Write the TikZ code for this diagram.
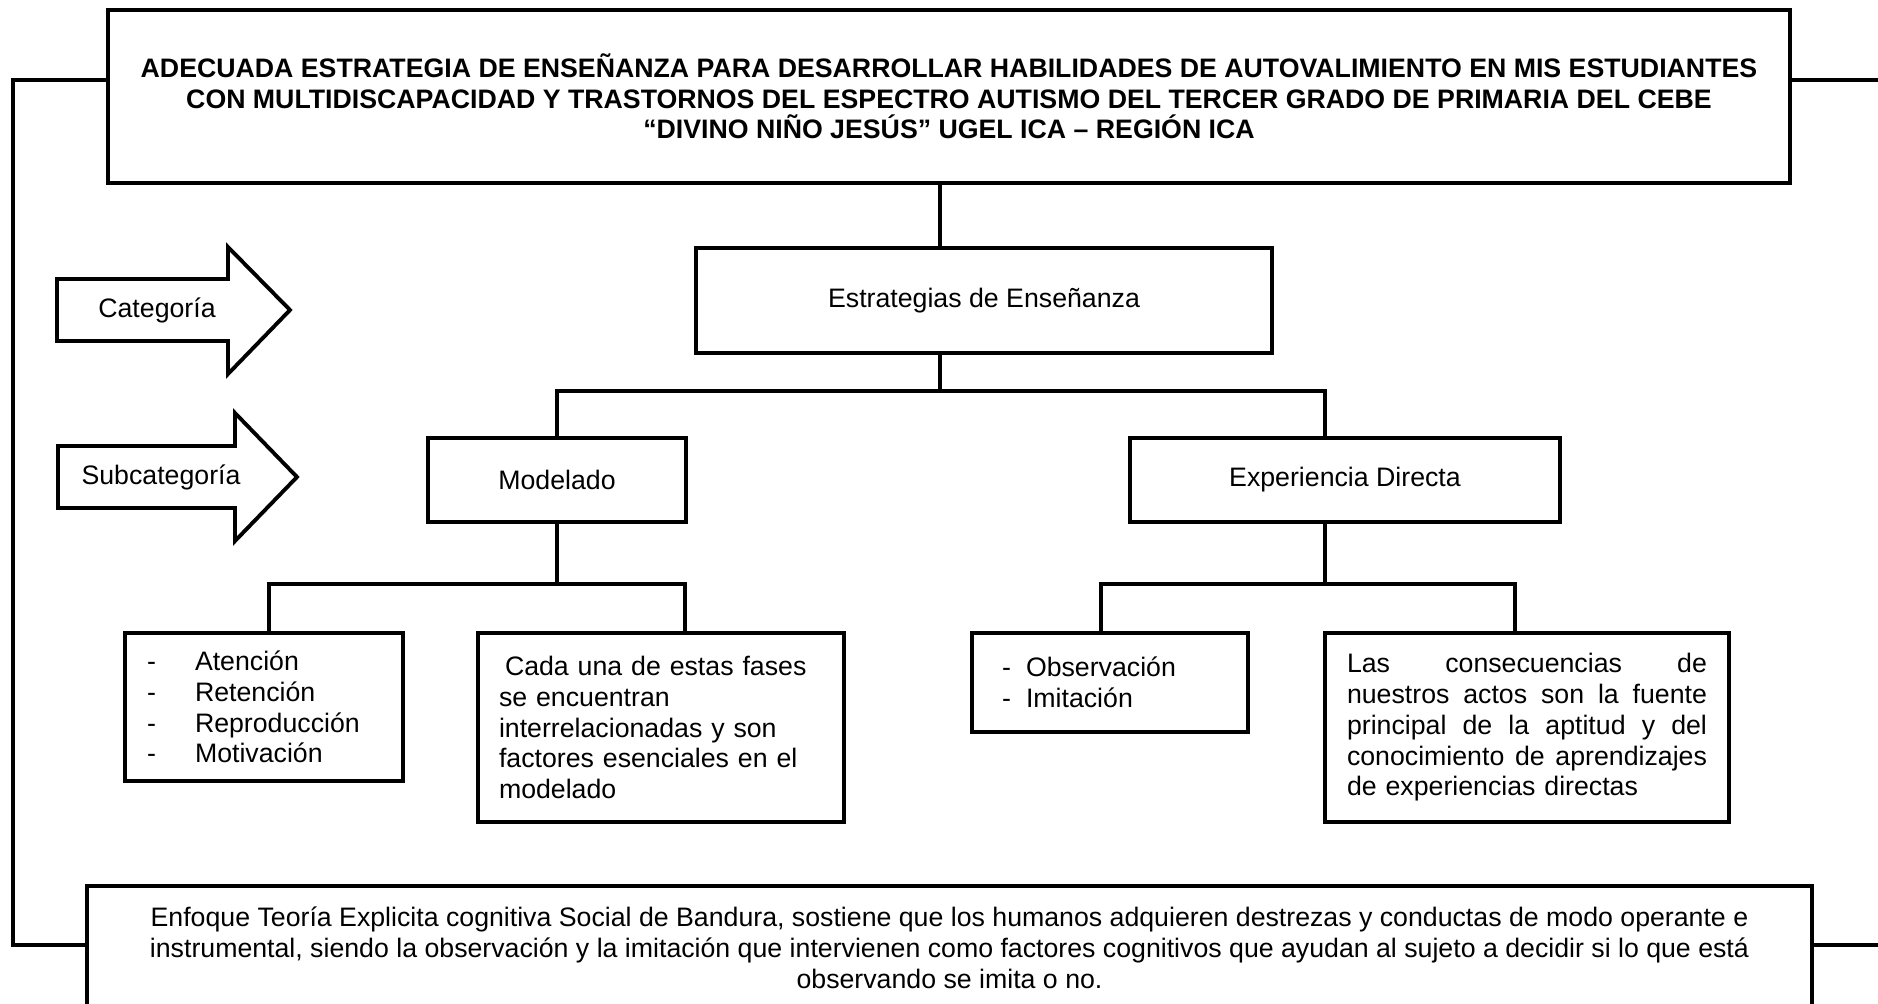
\documentclass[tikz,border=0pt]{standalone}
\usepackage{fontspec}
\setmainfont{Liberation Sans}
\newcommand{\lineaj}[1]{\makebox[7.2cm][s]{\spaceskip=0pt\relax #1}}
\begin{document}
\begin{tikzpicture}[
  caja/.style={draw, line width=2pt, inner sep=0pt, font=\fontsize{15.2}{17.5}\selectfont},
  enlace/.style={line width=1.8pt},
  flecha/.style={line width=2.2pt, line join=miter},
  marco/.style={line width=2.3pt}]
\clip (0,0) rectangle (37.56,-20.06);
% Titulo
\node[caja, minimum width=33.64cm, minimum height=3.46cm, align=center, font=\fontsize{15.2}{17.4}\selectfont\bfseries] (titulo) at (18.98,-1.93)
  {ADECUADA ESTRATEGIA DE ENSEÑANZA PARA DESARROLLAR HABILIDADES DE AUTOVALIMIENTO EN MIS ESTUDIANTES\\
   CON MULTIDISCAPACIDAD Y TRASTORNOS DEL ESPECTRO AUTISMO DEL TERCER GRADO DE PRIMARIA DEL CEBE\\
   “DIVINO NIÑO JESÚS” UGEL ICA – REGIÓN ICA};
% Flechas
\draw[flecha] (1.14,-5.58) -- (4.56,-5.58) -- (4.56,-4.94) -- (5.80,-6.20) -- (4.56,-7.48) -- (4.56,-6.82) -- (1.14,-6.82) -- cycle;
\node[font=\fontsize{15.2}{17.5}\selectfont] (categoria) at (3.14,-6.20) {Categoría};
\draw[flecha] (1.16,-8.92) -- (4.70,-8.92) -- (4.70,-8.26) -- (5.94,-9.54) -- (4.70,-10.82) -- (4.70,-10.16) -- (1.16,-10.16) -- cycle;
\node[font=\fontsize{15.2}{17.5}\selectfont] (subcategoria) at (3.22,-9.54) {Subcategoría};
% Cajas
\node[caja, minimum width=11.52cm, minimum height=2.10cm] (estrategias) at (19.68,-6.01) {Estrategias de Enseñanza};
\node[caja, minimum width=5.16cm, minimum height=1.68cm] (modelado) at (11.14,-9.60) {Modelado};
\node[caja, minimum width=8.60cm, minimum height=1.68cm] (experiencia) at (26.90,-9.60) {Experiencia Directa};
\node[caja, text width=4.68cm, inner xsep=0.44cm, minimum height=2.96cm, align=left] (fases) at (5.28,-14.14)
  {\makebox[0.96cm][l]{-}Atención\\
   \makebox[0.96cm][l]{-}Retención\\
   \makebox[0.96cm][l]{-}Reproducción\\
   \makebox[0.96cm][l]{-}Motivación};
\node[caja, text width=6.48cm, inner xsep=0.42cm, minimum height=3.78cm, align=left] (cada) at (13.22,-14.55)
  {\hspace*{0.12cm}Cada una de estas fases\\
   se encuentran\\
   interrelacionadas y son\\
   factores esenciales en el\\
   modelado};
\node[caja, text width=4.32cm, inner xsep=0.60cm, minimum height=1.98cm, align=left] (observacion) at (22.20,-13.65)
  {\makebox[0.48cm][l]{-}Observación\\
   \makebox[0.48cm][l]{-}Imitación};
\node[caja, text width=7.20cm, inner xsep=0.44cm, minimum height=3.78cm, align=left] (consecuencias) at (30.54,-14.55)
  {\lineaj{Las consecuencias de}\\
   \lineaj{nuestros actos son la fuente}\\
   \lineaj{principal de la aptitud y del}\\
   \lineaj{conocimiento de aprendizajes}\\
   de experiencias directas};
\node[caja, minimum width=34.50cm, minimum height=2.48cm, align=center] (enfoque) at (18.99,-18.96)
  {Enfoque Teoría Explicita cognitiva Social de Bandura, sostiene que los humanos adquieren destrezas y conductas de modo operante e\\
   instrumental, siendo la observación y la imitación que intervienen como factores cognitivos que ayudan al sujeto a decidir si lo que está\\
   observando se imita o no.};
% Enlaces
\coordinate (c0) at (18.80,-7.82);
\coordinate (c1) at (26.50,-7.82);
\coordinate (c2) at (5.38,-11.68);
\coordinate (c3) at (13.70,-11.68);
\coordinate (c4) at (22.02,-11.68);
\coordinate (c5) at (30.30,-11.68);
\draw[enlace] (titulo.south -| c0) -- (estrategias.north -| c0);
\draw[enlace] (estrategias.south -| c0) -- (c0);
\draw[enlace] (modelado.north) |- (c1) -- (experiencia.north -| c1);
\draw[enlace] (modelado.south) -- (modelado.south |- c2);
\draw[enlace] (fases.north -| c2) -- (c2) -- (c3) -- (cada.north -| c3);
\draw[enlace] (experiencia.south -| c1) -- (c1 |- c4);
\draw[enlace] (observacion.north -| c4) -- (c4) -- (c5) -- (consecuencias.north -| c5);
% Marco
\coordinate (m1) at (0.26,-1.60);
\coordinate (m2) at (0.26,-18.90);
\coordinate (m3) at (38,-1.60);
\coordinate (m4) at (38,-18.90);
\draw[marco] (titulo.west |- m1) -- (m1) -- (m2) -- (enfoque.west |- m2);
\draw[marco] (titulo.east |- m1) -- (m3);
\draw[marco] (enfoque.east |- m2) -- (m4);
\end{tikzpicture}
\end{document}
